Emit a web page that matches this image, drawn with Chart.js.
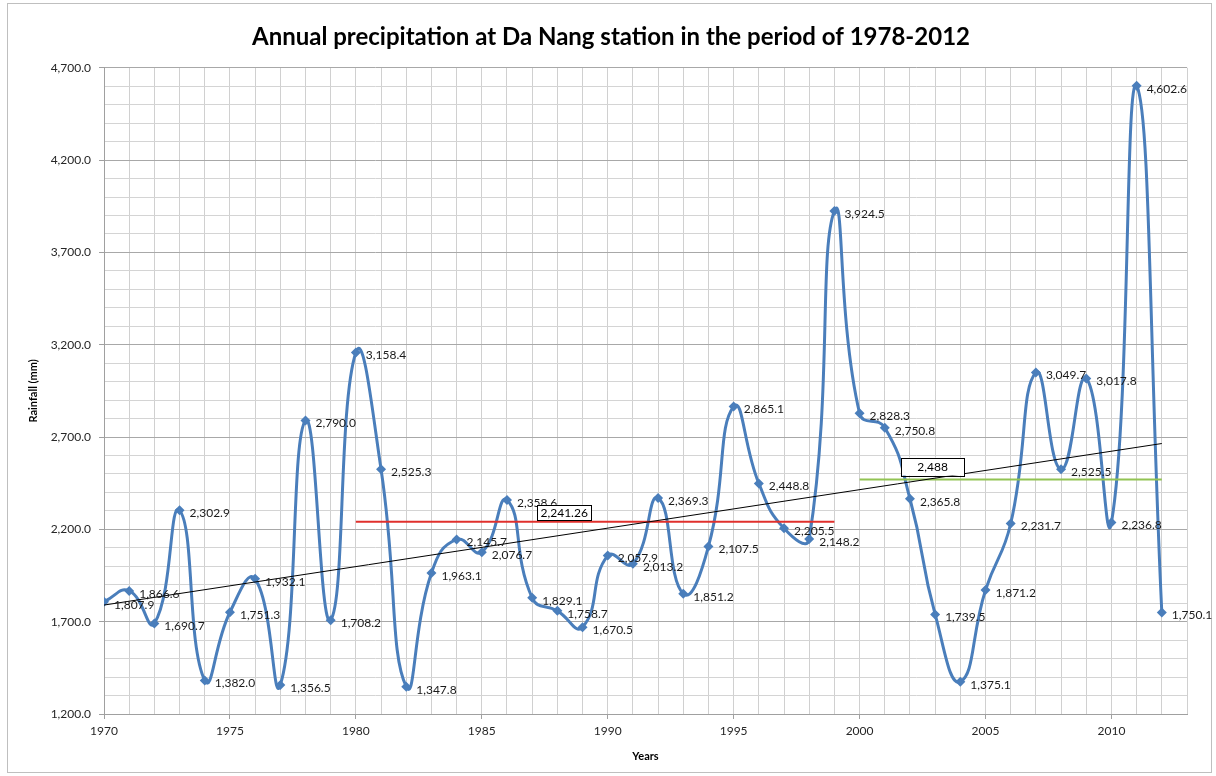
<!DOCTYPE html>
<html>
<head>
<meta charset="utf-8">
<script src="https://cdn.jsdelivr.net/npm/chart.js@4.4.1/dist/chart.umd.min.js"></script>
<style>
html,body{margin:0;padding:0;background:#fff;}
#wrap{width:1216px;height:776px;position:relative;}
</style>
</head>
<body>
<div id="wrap"><canvas id="c" width="1216" height="776"></canvas></div>
<script>
// ---- data ----
const years = [1970,1971,1972,1973,1974,1975,1976,1977,1978,1979,1980,1981,1982,1983,1984,1985,1986,1987,1988,1989,1990,1991,1992,1993,1994,1995,1996,1997,1998,1999,2000,2001,2002,2003,2004,2005,2006,2007,2008,2009,2010,2011,2012];
const rainfall = [1807.9,1866.6,1690.7,2302.9,1382.0,1751.3,1932.1,1356.5,2790.0,1708.2,3158.4,2525.3,1347.8,1963.1,2145.7,2076.7,2358.6,1829.1,1758.7,1670.5,2057.9,2013.2,2369.3,1851.2,2107.5,2865.1,2448.8,2205.5,2148.2,3924.5,2828.3,2750.8,2365.8,1739.5,1375.1,1871.2,2231.7,3049.7,2525.5,3017.8,2236.8,4602.6,1750.1];
const trendYears = [1970, 2012];
const trendValues = [1790, 2665];
const mean1Years = [1980, 1999];
const mean1Values = [2241.26, 2241.26];
const mean1Label = '2,241.26';
const mean2Years = [2000, 2012];
const mean2Values = [2470, 2470];
const mean2Label = '2,488';
const xTickLabels = [1970,1975,1980,1985,1990,1995,2000,2005,2010];
const yTickLabels = [1200,1700,2200,2700,3200,3700,4200,4700];

const toPts = (xs, ys) => xs.map((x, i) => ({x: x, y: ys[i]}));
const fmt = v => v.toLocaleString('en-US', {minimumFractionDigits: 1, maximumFractionDigits: 1});

const FONT = 'Lato, "Open Sans", sans-serif';
const BLUE = '#4a7ebb';

const framePlugin = {
  id: 'frame',
  beforeDraw(chart) {
    const ctx = chart.ctx;
    ctx.save();
    ctx.fillStyle = '#fff';
    ctx.fillRect(0, 0, chart.width, chart.height);
    ctx.strokeStyle = '#bfbfbf';
    ctx.lineWidth = 1;
    ctx.strokeRect(7.5, 3.5, chart.width - 12, chart.height - 7);
    ctx.restore();
  }
};

const labelPlugin = {
  id: 'pointLabels',
  afterDatasetsDraw(chart) {
    const ctx = chart.ctx;
    const meta = chart.getDatasetMeta(0);
    ctx.save();
    ctx.font = '12px ' + FONT;
    ctx.fillStyle = '#1a1a1a';
    ctx.textBaseline = 'middle';
    ctx.textAlign = 'left';
    meta.data.forEach((pt, i) => {
      ctx.fillText(fmt(rainfall[i]), pt.x + 10, pt.y + 3);
    });
    // annotation boxes
    const xs = chart.scales.x, ys = chart.scales.y;
    const box = (text, xYear, yVal, dy, w, h) => {
      const left = xs.getPixelForValue(xYear);
      const bottom = ys.getPixelForValue(yVal) - dy;
      ctx.fillStyle = '#fff';
      ctx.fillRect(left, bottom - h, w, h);
      ctx.strokeStyle = '#000';
      ctx.lineWidth = 1;
      ctx.strokeRect(Math.round(left) + 0.5, Math.round(bottom - h) + 0.5, w, h);
      ctx.fillStyle = '#000';
      ctx.textAlign = 'center';
      ctx.font = '12px ' + FONT;
      ctx.fillText(text, left + w / 2, bottom - h / 2 + 1);
    };
    box(mean1Label, 1987.2, mean1Values[0], 2, 54, 15);
    box(mean2Label, 2001.65, mean2Values[0], 4, 63, 18);
    ctx.restore();
  }
};

new Chart(document.getElementById('c'), {
  type: 'line',
  data: {
    datasets: [
      {
        data: toPts(years, rainfall),
        borderColor: BLUE,
        backgroundColor: BLUE,
        borderWidth: 3,
        tension: 0.5,
        pointStyle: 'rectRot',
        pointRadius: 5,
        pointBorderWidth: 0,
        pointBackgroundColor: BLUE,
        order: 4
      },
      {
        data: toPts(trendYears, trendValues),
        borderColor: '#000',
        borderWidth: 1,
        pointRadius: 0,
        tension: 0,
        order: 1
      },
      {
        data: toPts(mean1Years, mean1Values),
        borderColor: '#e0302c',
        borderWidth: 2,
        pointRadius: 0,
        tension: 0,
        order: 2
      },
      {
        data: toPts(mean2Years, mean2Values),
        borderColor: '#92c353',
        borderWidth: 2,
        pointRadius: 0,
        tension: 0,
        order: 3
      }
    ]
  },
  options: {
    responsive: false,
    animation: false,
    events: [],
    layout: {padding: {left: 15, right: 9, top: 0, bottom: 13}},
    plugins: {
      legend: {display: false},
      tooltip: {enabled: false},
      title: {
        display: true,
        text: 'Annual precipitation at Da Nang station in the period of 1978-2012',
        color: '#000',
        font: {family: FONT, size: 24, weight: 'bold'},
        padding: {top: 23, bottom: 16}
      }
    },
    scales: {
      x: {
        type: 'linear',
        min: 1970,
        max: 2013,
        afterBuildTicks(scale) {
          const t = [];
          for (let y = 1970; y <= 2013; y++) t.push({value: y});
          scale.ticks = t;
        },
        afterFit(scale) { scale.height = 49; },
        ticks: {
          autoSkip: false,
          maxRotation: 0,
          padding: 5,
          color: '#262626',
          font: {family: FONT, size: 12},
          callback: v => xTickLabels.includes(v) ? String(v) : ''
        },
        grid: {
          color: '#d0d0d0',
          lineWidth: 1,
          tickLength: 5,
          tickColor: ctx => (ctx.tick && xTickLabels.includes(ctx.tick.value)) ? '#a0a0a0' : 'rgba(0,0,0,0)'
        },
        border: {color: '#a0a0a0'},
        title: {
          display: true,
          text: 'Years',
          color: '#000',
          font: {family: FONT, size: 11, weight: 'bold'},
          padding: {top: 6, bottom: 0}
        }
      },
      y: {
        min: 1200,
        max: 4700,
        afterBuildTicks(scale) {
          const t = [];
          for (let v = 1200; v <= 4700; v += 100) t.push({value: v});
          scale.ticks = t;
        },
        afterFit(scale) { scale.width = 89; },
        ticks: {
          autoSkip: false,
          padding: 8,
          color: '#262626',
          font: {family: FONT, size: 12},
          callback: v => yTickLabels.includes(v) ? fmt(v) : ''
        },
        grid: {
          color: ctx => (ctx.tick && yTickLabels.includes(ctx.tick.value)) ? '#a8a8a8' : '#d4d4d4',
          lineWidth: 1,
          tickLength: 5,
          tickColor: ctx => (ctx.tick && yTickLabels.includes(ctx.tick.value)) ? '#a0a0a0' : 'rgba(0,0,0,0)'
        },
        border: {color: '#a0a0a0'},
        title: {
          display: true,
          text: 'Rainfall (mm)',
          color: '#000',
          font: {family: FONT, size: 11, weight: 'bold'},
          padding: {top: 12, bottom: 0}
        }
      },
      yRight: {
        position: 'right',
        min: 1200,
        max: 4700,
        afterFit(scale) { scale.width = 20; },
        grid: {display: false, drawTicks: false},
        border: {display: false},
        ticks: {display: false}
      }
    }
  },
  plugins: [framePlugin, labelPlugin]
});
</script>
</body>
</html>
